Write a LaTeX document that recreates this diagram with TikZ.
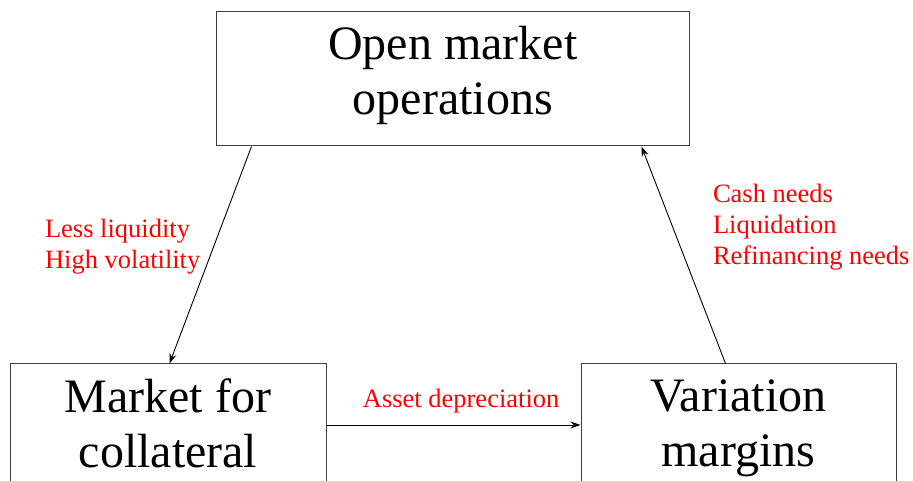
\documentclass[tikz,border=0pt]{standalone}
\usepackage{fontspec}
\setmainfont{Liberation Serif}
\usetikzlibrary{arrows.meta,positioning}

\begin{document}
\begin{tikzpicture}[x=1pt,y=1pt,->,>={Stealth[length=10pt,width=7pt]},line width=0.9pt,
                    block/.style={draw=black!75,line width=1pt,align=center,inner sep=0pt,
                                  minimum height=134pt,font=\fontsize{48}{55}\selectfont,
                                  execute at begin node=\strut,execute at end node=\strut},
                    cause/.style={text=red,inner sep=0pt,align=left,
                                  font=\fontsize{26.5}{31}\selectfont}]
  %\tikzstyle{every node}=[draw=none]
  \useasboundingbox (0,0) rectangle (913,481);
  \clip (0,0) rectangle (913,481);

  \node[block, minimum width=472.5pt] (omo) at (452.75,402) {Open market\\operations};
  \node[block, minimum width=316pt] (coll) at (168,50) {Market for\\collateral};
  \node[block, minimum width=315pt, right=254pt of coll] (vm) {Variation\\margins};

  \path ([xshift=35.5pt]omo.south west) edge node [cause, left, pos=0.46, xshift=-13pt]
            {Less liquidity\\High volatility} ([xshift=160pt]coll.north west)
        ([yshift=6pt]coll.east) edge node [cause, above=11pt, pos=0.53]
            {Asset depreciation} ([yshift=6pt]vm.west)
        ([xshift=145pt]vm.north west) edge node [cause, right, pos=0.63, xshift=40pt]
            {Cash needs\\Liquidation\\Refinancing needs} ([xshift=-48pt]omo.south east)
;
\end{tikzpicture}
\end{document}
